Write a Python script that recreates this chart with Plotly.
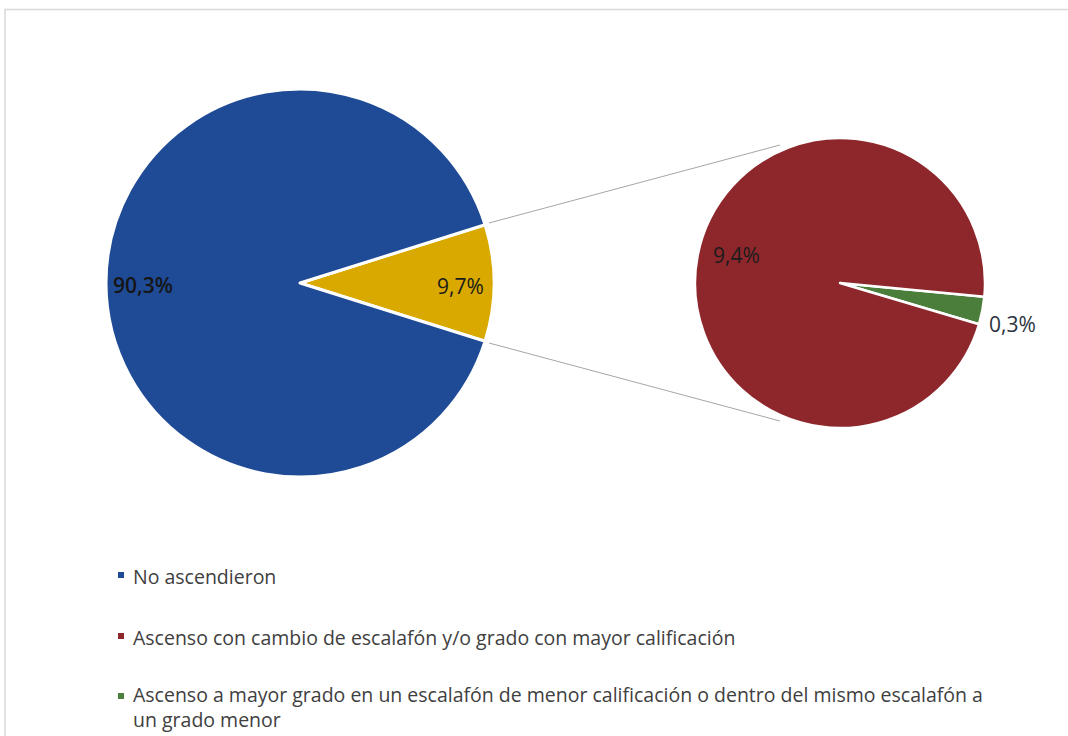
import plotly.graph_objects as go

W, H = 1068, 736

# Main breakdown and the breakdown of the promoted group
main_labels = ["Ascendieron", "No ascendieron"]
main_values = [9.7, 90.3]
main_colors = ["#d9a900", "#1f4b96"]

sub_labels = [
    "Ascenso a mayor grado en un escalafón de menor calificación o dentro del mismo escalafón a un grado menor",
    "Ascenso con cambio de escalafón y/o grado con mayor calificación",
]
sub_values = [0.3, 9.4]
sub_colors = ["#4b7d3b", "#8e272b"]

legend_labels = [
    "No ascendieron",
    "Ascenso con cambio de escalafón y/o grado con mayor calificación",
    "Ascenso a mayor grado en un escalafón de menor calificación o dentro del mismo escalafón a<br>un grado menor",
]
legend_colors = ["#1f4b96", "#8e272b", "#4b7d3b"]

FONT = "Open Sans"


def px_x(x):
    return x / W


def px_y(y):
    return 1 - y / H


# pie geometry in pixels: centre and radius
L_CX, L_CY, L_R = 300, 283, 194
R_CX, R_CY, R_R = 840, 283, 145

main_share = main_values[0] / sum(main_values) * 360

fig = go.Figure()

fig.add_trace(go.Pie(
    labels=main_labels, values=main_values, sort=False, direction="clockwise",
    rotation=90 - main_share / 2,
    marker=dict(colors=main_colors, line=dict(color="white", width=3)),
    textinfo="none", hoverinfo="label+percent", showlegend=False,
    domain=dict(x=[px_x(L_CX - L_R), px_x(L_CX + L_R)],
                y=[px_y(L_CY + L_R), px_y(L_CY - L_R)]),
))

fig.add_trace(go.Pie(
    labels=sub_labels, values=sub_values, sort=False, direction="clockwise",
    rotation=95.4,
    marker=dict(colors=sub_colors, line=dict(color="white", width=2.5)),
    textinfo="none", hoverinfo="label+value", showlegend=False,
    domain=dict(x=[px_x(R_CX - R_R), px_x(R_CX + R_R)],
                y=[px_y(R_CY + R_R), px_y(R_CY - R_R)]),
))


def pct(v):
    return f"{v:.1f}".replace(".", ",") + "%"


annotations = []
# value labels on the slices
value_labels = [
    (143, 285, pct(main_values[1]), dict(family=FONT, size=21, color="#151515", weight=600)),
    (460, 286, pct(main_values[0]), dict(family=FONT, size=21, color="#1b1b1b")),
    (736, 255, pct(sub_values[1]), dict(family=FONT, size=21, color="#1b1b1b")),
    (1012, 324, pct(sub_values[0]), dict(family=FONT, size=21, color="#2b3440")),
]
for lx, ly, txt, fnt in value_labels:
    annotations.append(dict(x=px_x(lx), y=px_y(ly), xanchor="center", yanchor="middle",
                            text=txt, showarrow=False,
                            xref="paper", yref="paper", font=fnt))

shapes = []
# outer frame
shapes.append(dict(type="rect", xref="paper", yref="paper", x0=px_x(5), y0=px_y(745),
                   x1=px_x(1080), y1=px_y(9.5), line=dict(color="#d9d9d9", width=1.5),
                   fillcolor="rgba(0,0,0,0)", layer="below"))
# connector lines between the two pies
shapes.append(dict(type="line", xref="paper", yref="paper", x0=px_x(489), y0=px_y(223),
                   x1=px_x(780), y1=px_y(145), line=dict(color="#a6a6a6", width=1)))
shapes.append(dict(type="line", xref="paper", yref="paper", x0=px_x(489), y0=px_y(343),
                   x1=px_x(780), y1=px_y(421), line=dict(color="#a6a6a6", width=1)))

# legend entries: (square centre y, text block centre y)
legend_pos = [(575, 576), (636, 637), (696, 707)]
for lbl, col, (sy, ty) in zip(legend_labels, legend_colors, legend_pos):
    shapes.append(dict(type="rect", xref="paper", yref="paper",
                       x0=px_x(118), x1=px_x(124), y0=px_y(sy + 3), y1=px_y(sy - 3),
                       fillcolor=col, line=dict(width=0)))
    annotations.append(dict(x=px_x(131), y=px_y(ty), xanchor="left", yanchor="middle",
                            text=lbl, showarrow=False, align="left",
                            xref="paper", yref="paper",
                            font=dict(family=FONT, size=19.5, color="#404040")))

fig.update_layout(
    width=W, height=H, margin=dict(l=0, r=0, t=0, b=0),
    paper_bgcolor="white", plot_bgcolor="white",
    annotations=annotations, shapes=shapes, showlegend=False,
)

fig.write_html("out.html")
